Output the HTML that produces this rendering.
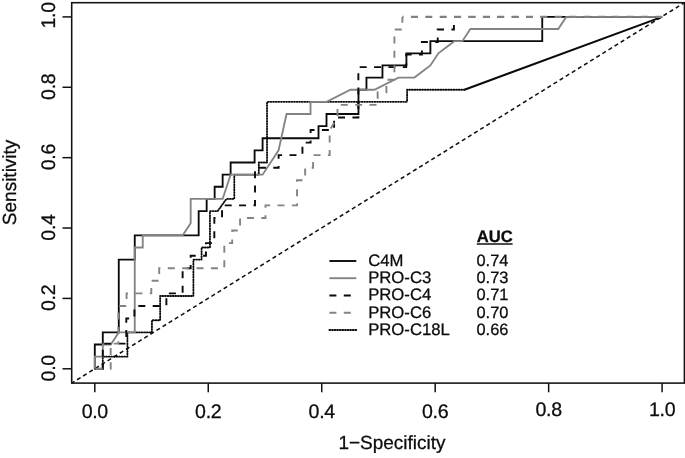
<!DOCTYPE html>
<html><head><meta charset="utf-8"><title>ROC curves</title>
<style>
html,body{margin:0;padding:0;background:#fff;}
body{width:685px;height:458px;overflow:hidden;position:relative;font-family:"Liberation Sans",sans-serif;}
svg text{font-family:"Liberation Sans",sans-serif;fill:#0c0c0c;stroke:#0c0c0c;stroke-width:0.28px;}
.ax{font-size:19px;}
.tk{font-size:19.6px;letter-spacing:-0.3px;}
svg text{text-rendering:geometricPrecision;}
.lg{font-size:16.4px;}
</style></head>
<body>
<svg width="685" height="458" viewBox="0 0 685 458" style="position:absolute;left:0;top:0;display:block;will-change:transform;transform:translateZ(0)">
<rect x="0" y="0" width="685" height="458" fill="#fff"/>
<line x1="71.7" y1="383.1" x2="684.4" y2="2.7" stroke="#111" stroke-width="1.55" stroke-dasharray="4.1 3.09" stroke-dashoffset="0.87"/>
<path d="M94.80,368.80 L102.79,368.80 L102.79,356.67 L127.42,356.67 L127.42,332.40 L151.93,332.40 L151.93,320.26 L160.15,320.26 L160.15,295.99 L193.40,295.99 L193.40,259.59 L201.57,259.59 L201.57,247.46 L209.96,247.46 L209.96,211.05 L217.68,211.05 L226.41,198.92 L234.30,198.92 L234.30,174.65 L258.81,174.65 L258.81,162.51 L267.03,162.51 L267.03,101.84 L407.10,101.84 L407.10,89.71 L464.45,89.71" fill="none" stroke="#0a0a0a" stroke-width="1.85" stroke-linejoin="round" stroke-dasharray="0.85 1.75" stroke-linecap="round"/>
<path d="M464.45,89.71 L662.10,16.90" fill="none" stroke="#0a0a0a" stroke-width="2.05" stroke-linejoin="miter" stroke-linecap="butt"/>
<path d="M94.80,368.80 L94.80,344.53 L102.79,344.53 L102.79,332.40 L118.77,332.40 L118.77,259.59 L134.75,259.59 L134.75,235.32 L198.67,235.32 L198.67,211.05 L206.66,211.05 L206.66,198.92 L214.65,198.92 L214.65,186.78 L222.64,186.78 L222.64,174.65 L230.63,174.65 L230.63,162.51 L254.60,162.51 L254.60,150.38 L262.59,150.38 L262.59,138.24 L318.52,138.24 L318.52,126.11 L326.51,126.11 L326.51,113.98 L358.47,113.98 L358.47,89.71 L366.46,89.71 L366.46,77.57 L382.45,77.57 L382.45,65.44 L406.42,65.44 L406.42,53.30 L430.39,53.30 L430.39,41.17 L542.25,41.17 L542.25,16.90 L662.10,16.90" fill="none" stroke="#0a0a0a" stroke-width="1.85" stroke-linejoin="miter" stroke-linecap="butt"/>
<path d="M94.80,368.80 L94.80,356.67 L102.79,356.67 L102.79,344.53 L110.78,344.53 L118.77,332.40 L134.75,332.40 L134.75,247.46 L142.74,247.46 L142.74,235.32 L182.69,235.32 L190.68,223.19 L190.68,198.92 L222.64,198.92 L230.63,174.65 L262.59,174.65 L278.57,150.38 L286.56,113.98 L310.53,113.98 L310.53,101.84 L326.51,101.84 L350.48,89.71 L374.45,89.71 L398.43,77.57 L414.41,77.57 L430.39,65.44 L438.38,53.30 L454.36,41.17 L462.35,41.17 L470.34,29.03 L558.23,29.03 L566.22,16.90 L662.10,16.90" fill="none" stroke="#838383" stroke-width="1.85" stroke-linejoin="miter" stroke-linecap="butt"/>
<path d="M94.80,368.80 L102.79,368.80 L102.79,343.66 L126.29,343.66 L126.29,318.53 L134.40,318.53 L134.40,305.96 L166.39,305.96 L166.39,293.39 L182.62,293.39 L182.62,268.26 L190.67,268.26 L190.67,255.69 L205.93,255.69 L205.93,243.12 L214.33,243.12 L214.33,217.99 L222.05,217.99 L222.05,205.42 L255.01,205.42 L255.01,167.71 L278.61,167.71 L278.61,155.15 L302.43,155.15 L302.43,142.58 L310.60,142.58 L310.60,130.01 L334.09,130.01 L334.09,117.44 L358.37,117.44 L358.37,67.17 L406.19,67.17 L406.19,54.60 L421.91,54.60 L421.91,42.04 L437.73,42.04 L437.73,29.47 L453.90,29.47 L453.90,17.90" fill="none" stroke="#0a0a0a" stroke-width="1.9" stroke-linejoin="miter" stroke-linecap="butt" stroke-dasharray="7.0 7.38" stroke-dashoffset="8.68"/>
<path d="M453.90,16.90 L662.10,16.90" fill="none" stroke="#0a0a0a" stroke-width="1.9" stroke-linejoin="miter" stroke-linecap="butt" stroke-dasharray="6.6 7.78" stroke-dashoffset="13.98"/>
<path d="M94.80,368.80 L110.68,368.80 L110.68,343.66 L118.40,343.66 L118.40,305.96 L126.57,305.96 L126.57,293.39 L151.30,293.39 L151.30,280.82 L159.19,280.82 L159.19,268.26 L224.31,268.26 L224.31,243.12 L232.20,243.12 L232.20,230.55 L240.09,230.55 L240.09,217.99 L265.50,217.99 L265.50,205.42 L297.04,205.42 L297.04,180.28 L305.15,180.28 L305.15,167.71 L313.10,167.71 L313.10,155.15 L329.66,155.15 L329.66,130.01 L337.49,117.44 L337.49,104.88 L377.66,104.88 L377.66,92.31 L386.39,92.31 L386.39,79.74 L394.39,79.74 L394.39,29.47 L402.39,29.47 L402.39,16.90" fill="none" stroke="#838383" stroke-width="1.9" stroke-linejoin="miter" stroke-linecap="butt" stroke-dasharray="7.0 7.38" stroke-dashoffset="13.4"/>
<path d="M402.39,16.90 L662.10,16.90" fill="none" stroke="#808080" stroke-width="2.3" stroke-linejoin="miter" stroke-linecap="butt" stroke-dasharray="7.0 7.38" stroke-dashoffset="5.82"/>
<rect x="71.7" y="2.7" width="612.6999999999999" height="380.40000000000003" fill="none" stroke="#111" stroke-width="1.55"/>
<line x1="94.80" y1="383.1" x2="94.80" y2="392.3" stroke="#111" stroke-width="1.5"/>
<line x1="71.7" y1="368.80" x2="62.5" y2="368.80" stroke="#111" stroke-width="1.5"/>
<text x="94.80" y="418.2" text-anchor="middle" class="tk">0.0</text>
<text transform="translate(54.8,368.30) rotate(-90)" text-anchor="middle" class="tk">0.0</text>
<line x1="208.26" y1="383.1" x2="208.26" y2="392.3" stroke="#111" stroke-width="1.5"/>
<line x1="71.7" y1="298.42" x2="62.5" y2="298.42" stroke="#111" stroke-width="1.5"/>
<text x="208.26" y="418.2" text-anchor="middle" class="tk">0.2</text>
<text transform="translate(54.8,297.92) rotate(-90)" text-anchor="middle" class="tk">0.2</text>
<line x1="321.72" y1="383.1" x2="321.72" y2="392.3" stroke="#111" stroke-width="1.5"/>
<line x1="71.7" y1="228.04" x2="62.5" y2="228.04" stroke="#111" stroke-width="1.5"/>
<text x="321.72" y="418.2" text-anchor="middle" class="tk">0.4</text>
<text transform="translate(54.8,227.54) rotate(-90)" text-anchor="middle" class="tk">0.4</text>
<line x1="435.18" y1="383.1" x2="435.18" y2="392.3" stroke="#111" stroke-width="1.5"/>
<line x1="71.7" y1="157.66" x2="62.5" y2="157.66" stroke="#111" stroke-width="1.5"/>
<text x="435.18" y="418.2" text-anchor="middle" class="tk">0.6</text>
<text transform="translate(54.8,157.16) rotate(-90)" text-anchor="middle" class="tk">0.6</text>
<line x1="548.64" y1="383.1" x2="548.64" y2="392.3" stroke="#111" stroke-width="1.5"/>
<line x1="71.7" y1="87.28" x2="62.5" y2="87.28" stroke="#111" stroke-width="1.5"/>
<text x="548.64" y="415.8" text-anchor="middle" class="tk">0.8</text>
<text transform="translate(54.8,86.78) rotate(-90)" text-anchor="middle" class="tk">0.8</text>
<line x1="662.10" y1="383.1" x2="662.10" y2="392.3" stroke="#111" stroke-width="1.5"/>
<line x1="71.7" y1="16.90" x2="62.5" y2="16.90" stroke="#111" stroke-width="1.5"/>
<text x="662.10" y="415.8" text-anchor="middle" class="tk">1.0</text>
<text transform="translate(54.8,15.40) rotate(-90)" text-anchor="middle" class="tk">1.0</text>
<text x="392" y="448.8" text-anchor="middle" class="ax">1−Specificity</text>
<text transform="translate(16.4,182.4) rotate(-90)" text-anchor="middle" class="ax">Sensitivity</text>
<line x1="329.4" y1="261.0" x2="356.3" y2="261.0" stroke="#0a0a0a" stroke-width="1.9"/>
<text x="368.2" y="265.8" class="lg" style="font-size:16.7px">C4M</text>
<text x="476.5" y="265.8" class="lg">0.74</text>
<line x1="329.4" y1="278.2" x2="356.3" y2="278.2" stroke="#838383" stroke-width="1.9"/>
<text x="368.2" y="283.0" class="lg" style="font-size:16.7px">PRO-C3</text>
<text x="476.5" y="283.0" class="lg">0.73</text>
<line x1="329.4" y1="295.6" x2="356.3" y2="295.6" stroke="#0a0a0a" stroke-width="2.0" stroke-dasharray="7.0 7.38"/>
<text x="368.2" y="300.4" class="lg" style="font-size:16.7px">PRO-C4</text>
<text x="476.5" y="300.4" class="lg">0.71</text>
<line x1="329.4" y1="312.7" x2="356.3" y2="312.7" stroke="#838383" stroke-width="2.0" stroke-dasharray="7.0 7.38"/>
<text x="368.2" y="317.5" class="lg" style="font-size:16.7px">PRO-C6</text>
<text x="476.5" y="317.5" class="lg">0.70</text>
<line x1="329.4" y1="330.0" x2="356.3" y2="330.0" stroke="#0a0a0a" stroke-width="1.85" stroke-dasharray="0.85 1.75" stroke-linecap="round"/>
<text x="368.2" y="334.8" class="lg" style="font-size:16.7px">PRO-C18L</text>
<text x="476.5" y="334.8" class="lg">0.66</text>
<text x="476.8" y="241.6" class="lg" font-weight="bold" style="font-size:16.6px">AUC</text>
<line x1="476.8" y1="244" x2="512.6" y2="244" stroke="#111" stroke-width="1.3"/>
</svg>
</body></html>
